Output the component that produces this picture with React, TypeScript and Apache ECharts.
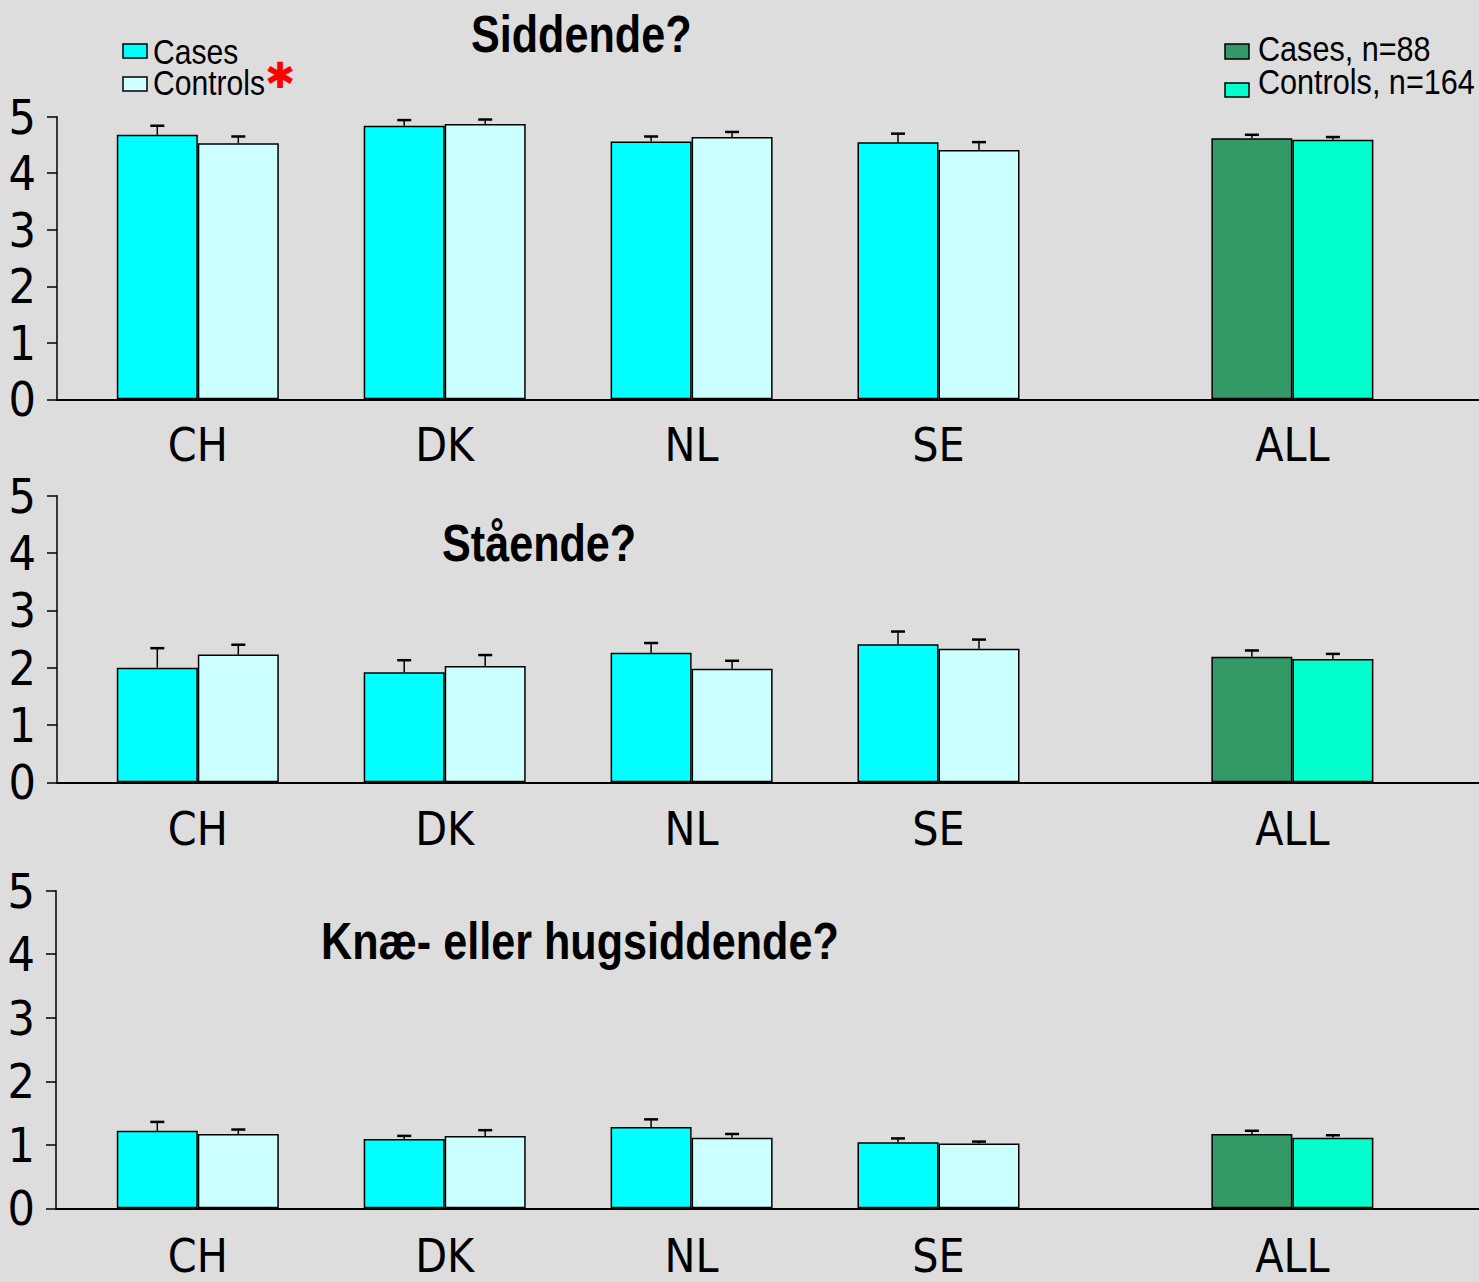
import React, { useEffect, useRef } from 'react';
import * as echarts from 'echarts';

// ---- data ----
const countries = ['CH', 'DK', 'NL', 'SE', 'ALL'];
const slots = [1, 4, 7, 10, 14.3];
const yTicks = [0, 1, 2, 3, 4, 5];

const panelTitles = ['Siddende?', 'Stående?', 'Knæ- eller hugsiddende?'];

const siddendeCases = [4.68, 4.84, 4.56, 4.55, 4.62];
const siddendeCasesErr = [0.16, 0.1, 0.09, 0.15, 0.06];
const siddendeControls = [4.53, 4.87, 4.64, 4.41, 4.59];
const siddendeControlsErr = [0.12, 0.08, 0.09, 0.14, 0.05];

const staaendeCases = [2.0, 1.92, 2.26, 2.41, 2.19];
const staaendeCasesErr = [0.34, 0.21, 0.17, 0.22, 0.11];
const staaendeControls = [2.23, 2.03, 1.98, 2.33, 2.15];
const staaendeControlsErr = [0.17, 0.19, 0.14, 0.16, 0.09];

const knaeCases = [1.22, 1.09, 1.28, 1.04, 1.17];
const knaeCasesErr = [0.14, 0.05, 0.12, 0.06, 0.05];
const knaeControls = [1.17, 1.14, 1.11, 1.02, 1.11];
const knaeControlsErr = [0.07, 0.09, 0.06, 0.03, 0.04];

const legendLeft = ['Cases', 'Controls'];
const legendRight = ['Cases, n=88', 'Controls, n=164'];

// ---- styles / layout ----
const AXIS_FONT = "'DejaVu Sans Condensed', 'Liberation Sans', sans-serif";
const TEXT_FONT = "'Liberation Sans', Arial, sans-serif";
const BG = '#dddddd';
const C_CASES = '#00ffff';
const C_CONTROLS = '#ccffff';
const C_ALL_CASES = '#339966';
const C_ALL_CONTROLS = '#00ffcc';
const BAR_W = 81;
const SLOT_ORIGIN = 115.5; // px of slot 0
const SLOT_PX = 82.3; // px per slot unit
const W = 1479;
const H = 1282;

const panels = [
  { cases: siddendeCases, casesErr: siddendeCasesErr, controls: siddendeControls, controlsErr: siddendeControlsErr,
    top: 116.7, height: 282.6, left: 57, titleX: 471, titleY: 34, labelMargin: 23 },
  { cases: staaendeCases, casesErr: staaendeCasesErr, controls: staaendeControls, controlsErr: staaendeControlsErr,
    top: 495.7, height: 286.6, left: 57, titleX: 442, titleY: 542.6, labelMargin: 24 },
  { cases: knaeCases, casesErr: knaeCasesErr, controls: knaeControls, controlsErr: knaeControlsErr,
    top: 890.7, height: 317.6, left: 56, titleX: 321, titleY: 941, labelMargin: 25 },
];

function errRenderer(offset: number) {
  return (params: any, api: any) => {
    const x = api.value(0);
    const v = api.value(1);
    const e = api.value(2);
    const p0 = api.coord([x, v]);
    const p1 = api.coord([x, v + e]);
    const cx = p0[0] + offset;
    return {
      type: 'group',
      children: [
        { type: 'line', shape: { x1: cx, y1: p0[1], x2: cx, y2: p1[1] }, style: { stroke: '#000', lineWidth: 1.5 } },
        { type: 'line', shape: { x1: cx - 7, y1: p1[1], x2: cx + 7, y2: p1[1] }, style: { stroke: '#000', lineWidth: 2.5 } },
      ],
    };
  };
}

function scaledText(text: string, x: number, y: number, size: number, sx: number, bold = false, fill = '#000') {
  return {
    type: 'text',
    x,
    y,
    scaleX: sx,
    style: {
      text,
      fontSize: size,
      fontFamily: TEXT_FONT,
      fontWeight: bold ? 'bold' : 'normal',
      fill,
      align: 'left',
      verticalAlign: 'middle',
    },
  };
}

function buildOption() {
  const grid: any[] = [];
  const xAxis: any[] = [];
  const yAxis: any[] = [];
  const series: any[] = [];
  const graphic: any[] = [];

  panels.forEach((p, i) => {
    grid.push({ left: p.left, top: p.top, width: W - p.left, height: p.height, containLabel: false, outerBoundsMode: 'none' });
    xAxis.push({
      type: 'value',
      gridIndex: i,
      min: (p.left - SLOT_ORIGIN) / SLOT_PX,
      max: (W - SLOT_ORIGIN) / SLOT_PX,
      splitLine: { show: false },
      axisTick: { show: false },
      axisLine: { show: true, onZero: true, lineStyle: { color: '#000', width: 2 } },
      axisLabel: {
        customValues: slots,
        formatter: (v: number) => {
          let best = 0;
          slots.forEach((s, k) => { if (Math.abs(s - v) < Math.abs(slots[best] - v)) best = k; });
          return countries[best];
        },
        fontSize: 46,
        fontFamily: AXIS_FONT,
        color: '#000',
        margin: p.labelMargin,
      },
    });
    yAxis.push({
      type: 'value',
      gridIndex: i,
      min: yTicks[0],
      max: yTicks[yTicks.length - 1],
      interval: 1,
      splitLine: { show: false },
      axisLine: { show: true, onZero: false, lineStyle: { color: '#000', width: 1.5 } },
      axisTick: { show: true, length: 10, lineStyle: { color: '#000', width: 1.5 } },
      axisLabel: { fontSize: 48, fontFamily: AXIS_FONT, color: '#000', margin: 21, padding: [0, 0, 12, 0] },
    });
    series.push({
      type: 'bar',
      name: 'Cases',
      xAxisIndex: i,
      yAxisIndex: i,
      barWidth: BAR_W,
      barGap: '0%',
      data: slots.map((s, k) => ({
        value: [s, p.cases[k]],
        itemStyle: { color: k === slots.length - 1 ? C_ALL_CASES : C_CASES },
      })),
      itemStyle: { borderColor: '#000', borderWidth: 1.5 },
    });
    series.push({
      type: 'bar',
      name: 'Controls',
      xAxisIndex: i,
      yAxisIndex: i,
      barWidth: BAR_W,
      barGap: '0%',
      data: slots.map((s, k) => ({
        value: [s, p.controls[k]],
        itemStyle: { color: k === slots.length - 1 ? C_ALL_CONTROLS : C_CONTROLS },
      })),
      itemStyle: { borderColor: '#000', borderWidth: 1.5 },
    });
    series.push({
      type: 'custom',
      xAxisIndex: i,
      yAxisIndex: i,
      z: 5,
      encode: { x: 0, y: 1 },
      data: slots.map((s, k) => [s, p.cases[k], p.casesErr[k]]),
      renderItem: errRenderer(-BAR_W / 2),
    });
    series.push({
      type: 'custom',
      xAxisIndex: i,
      yAxisIndex: i,
      z: 5,
      encode: { x: 0, y: 1 },
      data: slots.map((s, k) => [s, p.controls[k], p.controlsErr[k]]),
      renderItem: errRenderer(BAR_W / 2),
    });
    graphic.push(scaledText(panelTitles[i], p.titleX, p.titleY, 52, 0.83, true));
  });

  graphic.push(
    { type: 'rect', shape: { x: 123, y: 44, width: 24, height: 14 }, style: { fill: C_CASES, stroke: '#000', lineWidth: 1.5 } },
    { type: 'rect', shape: { x: 123, y: 77, width: 24, height: 14 }, style: { fill: C_CONTROLS, stroke: '#000', lineWidth: 1.5 } },
    scaledText(legendLeft[0], 153, 51.7, 35, 0.86),
    scaledText(legendLeft[1], 153, 82.5, 35, 0.86),
    {
      type: 'text', x: 280, y: 75.5,
      style: { text: '✱', fontSize: 36, fontFamily: 'DejaVu Sans', fill: '#ff0000', align: 'center', verticalAlign: 'middle' },
    },
    { type: 'rect', shape: { x: 1225, y: 44, width: 24, height: 15 }, style: { fill: C_ALL_CASES, stroke: '#000', lineWidth: 1.5 } },
    { type: 'rect', shape: { x: 1225, y: 83, width: 24, height: 14 }, style: { fill: C_ALL_CONTROLS, stroke: '#000', lineWidth: 1.5 } },
    scaledText(legendRight[0], 1258, 48.4, 36, 0.85),
    scaledText(legendRight[1], 1258, 81.2, 36, 0.85),
  );

  return {
    animation: false,
    backgroundColor: BG,
    grid,
    xAxis,
    yAxis,
    series,
    graphic,
  };
}

export default function App() {
  const ref = useRef<HTMLDivElement>(null);
  useEffect(() => {
    document.body.style.margin = '0';
    document.body.style.background = BG;
    if (!ref.current) return;
    const chart = echarts.init(ref.current, undefined, { renderer: 'svg' });
    chart.setOption(buildOption() as any);
    return () => chart.dispose();
  }, []);
  return <div ref={ref} style={{ width: W, height: H }} />;
}
